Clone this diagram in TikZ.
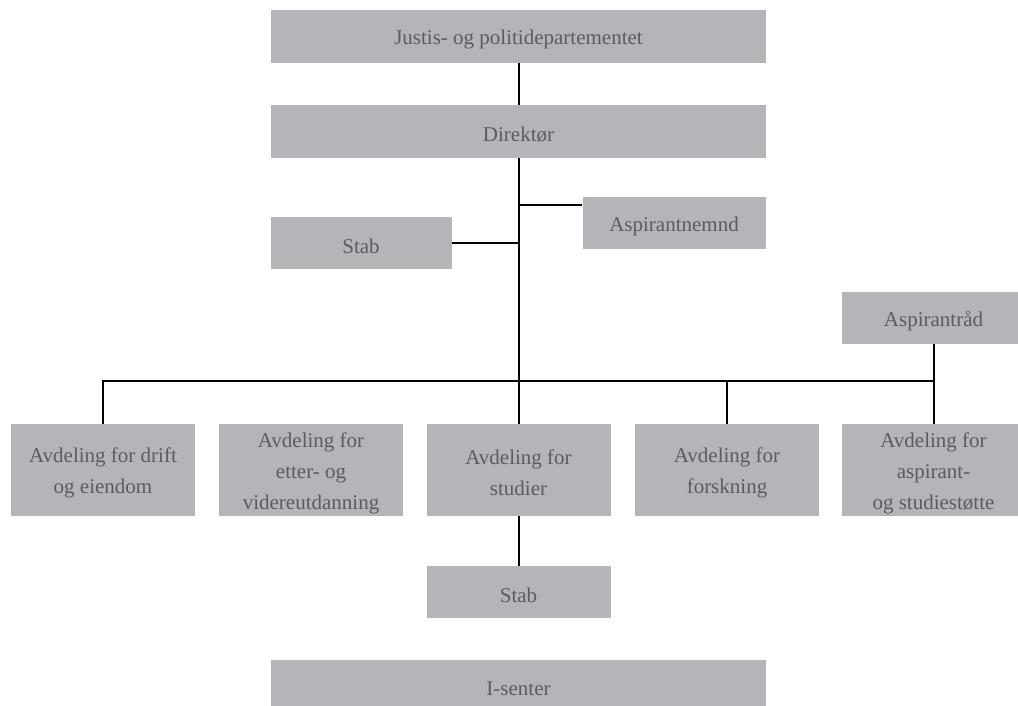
\documentclass[tikz,border=0pt]{standalone}
\usepackage{fontspec}
\setmainfont{Liberation Serif}
\definecolor{boxgray}{RGB}{180,181,185}
\definecolor{txtgray}{RGB}{92,92,94}
\begin{document}
\begin{tikzpicture}[x=1pt,y=-1pt,
  orgbox/.style={rectangle, fill=boxgray, draw=none, inner sep=0pt},
  wide/.style={orgbox, minimum width=495pt, minimum height=53pt},
  small/.style={orgbox, minimum width=183pt, minimum height=52pt},
  dept/.style={orgbox, minimum width=184pt, minimum height=92pt},
  txt/.style={inner sep=0pt, align=center, text=txtgray, font=\fontsize{21}{31}\selectfont},
  link/.style={draw=black, line width=2pt}]
\path[use as bounding box, clip] (0,0) rectangle (1018,706);

\node[wide] (jus) at (518.5,36.5) {};
\node[wide] (dir) at (518.5,131.5) {};
\node[small, minimum width=181pt] (stab1) at (361,243) {};
\node[small] (nemnd) at (674,223) {};
\node[small] (rad) at (933.5,318) {};
\node[dept] (b1) at (103,470) {};
\node[dept] (b2) at (311,470) {};
\node[dept] (b3) at (518.5,470) {};
\node[dept] (b4) at (727,470) {};
\node[dept] (b5) at (933.5,470) {};
\node[small, minimum width=184pt] (stab2) at (518.5,592) {};
\node[wide] (isenter) at (518.5,686) {};

\node[txt] (jusT) at ([yshift=-3pt]jus.center) {Justis- og politidepartementet};
\node[txt] (dirT) at ([yshift=-3pt]dir.center) {Direktør};
\node[txt] (stab1T) at ([yshift=-3pt]stab1.center) {Stab};
\node[txt] (nemndT) at ([yshift=-3pt]nemnd.center) {Aspirantnemnd};
\node[txt] (radT) at ([yshift=-3pt]rad.center) {Aspirantråd};
\node[txt] (b1T) at ([yshift=-3pt]b1.center) {Avdeling for drift\\og eiendom};
\node[txt] (b2T) at ([yshift=-3pt]b2.center) {Avdeling for\\etter- og\\videreutdanning};
\node[txt] (b3T) at ([yshift=-3pt]b3.center) {Avdeling for\\studier};
\node[txt] (b4T) at ([yshift=-3pt]b4.center) {Avdeling for\\forskning};
\node[txt] (b5T) at ([yshift=-3pt]b5.center) {Avdeling for\\aspirant-\\og studiestøtte};
\node[txt] (stab2T) at ([yshift=-3pt]stab2.center) {Stab};
\node[txt] (isenterT) at ([yshift=-3pt]isenter.center) {I-senter};

\coordinate (bus) at (0,381);
\coordinate (nemndy) at (0,205);

\draw[link] (jus.south) -- (dir.north);
\draw[link] (dir.south) -- (b3.north);
\draw[link] (stab1.east) -- (stab1.east -| dir.south);
\draw[link] (dir.south |- nemndy) -- (nemnd.west |- nemndy);
\draw[link] (b1.north) -- (b1.north |- bus) -- (b5.north |- bus);
\draw[link] (b4.north) -- (b4.north |- bus);
\draw[link] (rad.south) -- (b5.north);
\draw[link] (b3.south) -- (stab2.north);
\end{tikzpicture}
\end{document}
